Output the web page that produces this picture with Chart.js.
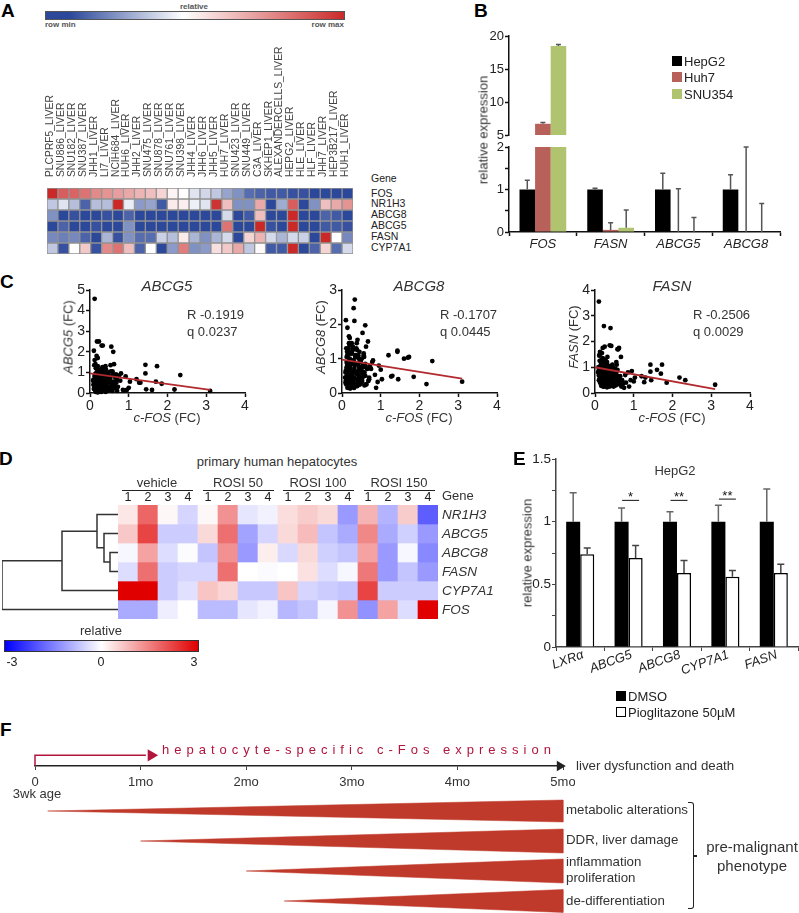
<!DOCTYPE html>
<html>
<head>
<meta charset="utf-8">
<title>Figure</title>
<script src="https://cdn.jsdelivr.net/npm/chart.js@4"></script>
<style>
  html, body { margin: 0; padding: 0; background: #fff; }
  #page { position: relative; width: 799px; height: 913px; overflow: hidden; font-family: "Liberation Sans", Arial, sans-serif; color: #222; }
  #page canvas { position: absolute; }
  .txt { position: absolute; white-space: nowrap; line-height: 1; }
  .bar { position: absolute; box-sizing: border-box; }
</style>
</head>
<body>
<div id="page"></div>
<script>
// panel A
const cellLines = ['PLCPRF5_LIVER','SNU886_LIVER','SNU182_LIVER','SNU387_LIVER','JHH1_LIVER','LI7_LIVER','NCIH684_LIVER','HUH6_LIVER','JHH2_LIVER','SNU475_LIVER','SNU878_LIVER','SNU761_LIVER','SNU398_LIVER','JHH4_LIVER','JHH6_LIVER','JHH5_LIVER','HUH7_LIVER','SNU423_LIVER','SNU449_LIVER','C3A_LIVER','SKHEP1_LIVER','ALEXANDERCELLS_LIVER','HEPG2_LIVER','HLE_LIVER','HLF_LIVER','JHH7_LIVER','HEP3B217_LIVER','HUH1_LIVER'];
const ccleGenes = ['FOS','NR1H3','ABCG8','ABCG5','FASN','CYP7A1'];
const ccleFos = [1,.75,.72,.65,.55,.5,.45,.4,.35,.3,.2,.05,0,-.15,-.22,-.3,-.5,-.6,-.8,-.85,-.9,-.9,-.95,-.95,-1,-1,-1,-1];
const ccleNr1h3 = [-.3,-.15,-.35,-.85,-.35,-.35,1,-.1,-.55,-.5,-.9,.1,.08,-.08,-.15,.95,.3,-.6,-.6,.4,-1,-.45,.75,-1,-.6,.3,.4,.5];
const ccleAbcg8 = [-.6,-1,-.95,-1,-1,-.95,-1,-.85,-1,-1,-1,-1,-1,-1,-1,-1,-.2,-1,-.9,.3,-1,-1,1,-1,-1,-.85,-.9,-1];
const ccleAbcg5 = [-1,-.85,-1,-1,-.95,-1,-1,-.6,-1,-1,-1,-1,-1,-1,-1,-1,.65,-1,-1,1,-.95,-1,1,-1,-1,-.9,-.9,-.95];
const ccleFasn = [-.65,-.7,-.65,-.85,-1,-.4,-.95,-.6,-.8,-.8,-.25,-.35,.1,-.4,-.6,-.4,-.2,-1,.2,.35,-.2,-.4,-.2,-.25,-1,1,0,-.65];
const ccleCyp7a1 = [-.3,-.95,0,.25,-.95,.55,.65,.3,-.85,0,-1,-.55,.6,-.6,-.55,.15,.25,.4,-.3,.03,-.9,-.9,1,-1,-.85,.2,-.8,-.2];

// panel B
const qpcrGenes = ['FOS','FASN','ABCG5','ABCG8'];
const hepg2Values = [1,1,1,1];
const hepg2Tops = [1.22,1.03,1.38,1.35];
const huh7Values = [6.7,.05,0,0];
const huh7Tops = [6.9,.22,1.02,2];
const snu354Values = [18.5,.1,0,0];
const snu354Tops = [18.7,.52,.34,.67];

// panel C, one entry per sample
const cfosFc = [3.10,2.33,2.18,1.85,1.73,1.70,1.60,1.43,1.43,1.45,
  1.30,1.27,1.20,.12,.18,.23,.30,.33,.55,.60,
  .10,.17,.20,.12,.40,.32,.14,.53,.62,.58,
  .67,.38,.42,.25,1.03,1.00,.95,.92,.88,.85,
  .80,.78,.75,.72,.70,.68,.65,.63,.60,.58,
  .56,.54,.52,.50,.48,.46,.45,.44,.42,.40,
  .39,.38,.36,.35,.34,.33,.32,.31,.30,.29,
  .28,.27,.26,.25,.24,.23,.22,.21,.20,.19,
  .18,.17,.16,.15,.14,.13,.12,.11,.10,.09,
  .50,.47,.43,.37,.33,.29,.26,.24,.21,.18,
  .15,.13,.11,.55,.48,.41,.36,.31,.27,.22,
  .19,.16,.62,.70,.44,.34,.28,.20,.14,.10,
  .08,.12,.16,.20,.24,.28,.32,.36,.40,.44,
  .48,.52,.56,.60,.65,.15,.19,.23,.27,.31,
  .35,.39,.43,.47,.51,.09,.13,.17,.21,.25,
  .29,.33,.37,.41,.45,.49,.53,.57,.61,.26];
const abcg5Fc = [.10,.87,.17,.45,1.30,.55,.15,1.37,.95,.18,
  .50,.50,.67,4.57,2.50,2.50,2.30,2.30,2.25,2.00,
  2.05,1.80,1.70,1.60,1.30,1.25,1.40,1.35,1.40,1.05,
  .90,1.20,.95,1.10,.55,.25,.15,.80,.12,.15,
  .95,.60,.85,.30,.65,.50,.75,.40,.90,.10,
  .35,1.05,.70,.20,1.00,.55,.85,.10,.70,.45,
  .95,.25,.60,.80,.15,1.10,.50,.30,.90,.05,
  1.15,.40,.75,1.00,.20,.60,.85,.12,1.30,.45,
  .70,1.25,.30,.95,.10,.55,.80,1.35,.40,.65,
  .15,.80,.30,.65,.45,.08,.95,.35,.70,.22,
  .05,.90,.50,.20,.55,.12,.40,.70,.18,.30,
  1.05,.60,.25,.10,.33,.90,.50,.03,.75,.20,
  .60,.20,.85,.50,1.10,.30,.75,.55,.05,.85,
  .30,.60,.15,.45,.25,1.20,.95,.35,.65,1.05,
  .85,.55,.25,.70,.50,.40,.85,.10,.60,.95,
  .20,.70,.40,1.15,.60,.15,.80,.30,.55,.50];
const abcg8Fc = [.33,.93,.26,.47,1.05,1.03,1.00,1.20,1.23,.40,
  .50,.48,1.10,.90,1.65,1.20,2.47,2.72,.75,1.97,
  2.12,1.30,1.60,1.05,1.55,2.10,1.90,1.75,1.35,.60,
  1.50,1.45,1.10,1.45,.40,.68,.80,.32,.15,.53,
  .95,.90,.70,.78,.45,.35,.72,.25,.85,.22,
  1.10,.80,.55,.30,.95,.25,1.20,.50,.85,.30,
  1.25,.55,.85,.20,1.05,.40,.70,.15,.95,.35,
  1.35,.25,.60,.90,.18,1.15,.45,.75,1.00,.30,
  1.45,.20,.65,1.10,.15,.85,.50,1.30,.35,.60,
  .65,.28,1.00,.42,.80,.22,1.15,.55,.13,.95,
  .40,.72,.25,.60,.90,.33,1.05,.15,.50,.70,
  .85,.18,.75,.40,.24,.62,1.25,.38,1.10,.65,
  .45,.75,.30,.85,.20,1.30,.60,1.05,.25,.75,
  .95,.35,1.15,.50,.70,.55,1.40,.30,.85,.45,
  1.10,.20,.65,.40,1.00,.30,1.20,.50,.80,.35,
  .95,.25,1.30,.55,.30,.75,.45,1.05,.25,.60];
const fasnFc = [.32,.50,.60,.40,1.10,.75,.90,1.10,.83,.50,
  .60,.42,.65,1.50,1.55,2.60,1.10,.80,1.20,1.70,
  3.55,1.30,1.75,1.25,2.52,.90,1.00,.60,1.75,1.70,
  1.40,1.85,1.83,1.80,.60,.45,.85,.50,.25,.80,
  .40,.70,.20,.35,.50,.25,.65,.40,.55,.90,
  1.10,.30,.75,.55,.25,1.00,.40,.60,.30,.80,
  1.05,.25,.70,.95,.30,.55,1.40,.22,.85,.60,
  1.25,.35,.75,.50,1.00,.25,.85,.65,1.35,.30,
  .75,1.10,.28,.90,.60,1.60,.70,1.45,.50,.85,
  .30,.95,.55,.70,.35,1.15,.45,.80,.25,1.00,
  .65,.40,.90,.80,.28,.60,.42,1.20,.75,.55,
  .33,.95,.50,.38,.72,.27,1.05,.62,.85,.68,
  .80,.55,.95,.35,.70,1.05,.45,.85,.60,.30,
  .70,.95,.40,.65,.50,1.10,.60,1.30,.45,.70,
  .95,.35,.80,.55,.65,1.00,.75,.45,1.20,.60,
  .30,.90,.50,.75,1.10,.40,.85,.55,.35,.65];
const trendX = [0,3.1];
const abcg5Trend = [.95,.15];
const abcg8Trend = [.97,.42];
const fasnTrend = [1,.15];

// panel D
const phhColumns = ['1','2','3','4','1','2','3','4','1','2','3','4','1','2','3','4'];
const phhGroups = ['vehicle','ROSI 50','ROSI 100','ROSI 150'];
const phhGenes = ['NR1H3','ABCG5','ABCG8','FASN','CYP7A1','FOS'];
const phhNr1h3 = [.3,1.8,.1,-.5,.1,1.3,-.3,-.15,.4,.6,.45,-1.2,.9,-.9,.6,-1.9];
const phhAbcg5 = [.65,2.2,-.6,-.6,.45,1.7,-1.1,-.5,.45,.8,-.7,-1,1.4,-1,-.55,-1.2];
const phhAbcg8 = [-.1,1.1,-.4,-.03,-.7,1.3,-1.2,.2,-.45,.45,-.55,-.7,1.1,-1.2,-.1,-1.4];
const phhFasn = [-.4,1.7,-.6,-.5,-.5,1.7,0,-.05,0,.35,-.4,-.1,1.6,-1.2,-.7,-1.2];
const phhCyp7a1 = [3,3,-.6,-.35,.7,.5,-.65,-.65,.7,-.5,-.6,-.7,2.2,-.6,-.6,-.6];
const phhFos = [-1,-1,-.2,0,-.8,-.8,-.3,-.15,-.85,-.7,-.12,1.3,-1.3,1.1,-.4,3];
// [distance, row] corners of each dendrogram link
const dendroPaths = [
  [[0,2.5],[8,2.5],[8,3.5],[0,3.5]],
  [[0,1.5],[14,1.5],[14,3],[8,3]],
  [[0,.5],[21,.5],[21,2.25],[14,2.25]],
  [[21,1.375],[56,1.375],[56,4.5],[0,4.5]],
  [[56,2.94],[116,2.94],[116,5.5],[0,5.5]]
];

// panel E
const hepg2Genes = ['LXRα','ABCG5','ABCG8','CYP7A1','FASN'];
const dmsoValues = [1,1,1,1,1];
const dmsoTops = [1.23,1.11,1.08,1.13,1.26];
const pioValues = [.74,.71,.59,.56,.59];
const pioTops = [.79,.81,.69,.61,.66];
const sigGenes = [1,2,3];
const sigLevels = [1.17,1.17,1.18];
const sigLabels = ['*','**','**'];

// panel F, x in months, y in track units
const monthLabels = ['0','1mo','2mo','3mo','4mo','5mo'];
const taperStart = [.12,1,2,2.36];
const taperEnd = 5;
const taperRow = [66,96,126,156];
const taperHalf = [11,12,12,11.5];
const taperLabels = ['metabolic alterations','DDR, liver damage','inflammation','proliferation','de-differentiation'];
const timelineRow = 21;
const expressionRow = 5;
const expressionEnd = 1.05;

const page = document.getElementById('page');
const axisBlack = '#111';
const redLine = '#b12a2e';
const crimson = '#b2143c';

function text(str, x, y, o = {}) {
  const d = document.createElement('div');
  d.className = 'txt';
  d.innerHTML = str;
  d.style.left = x + 'px';
  d.style.top = y + 'px';
  d.style.fontSize = (o.size || 13) + 'px';
  if (o.bold) d.style.fontWeight = 'bold';
  if (o.italic) d.style.fontStyle = 'italic';
  if (o.color) d.style.color = o.color;
  if (o.spacing) d.style.letterSpacing = o.spacing + 'px';
  const ax = o.align === 'center' ? '-50%' : o.align === 'right' ? '-100%' : '0';
  d.style.transform = 'translate(' + ax + ',-50%)' + (o.rotate ? ' rotate(' + o.rotate + 'deg)' : '');
  page.appendChild(d);
}

function rect(x, y, w, h, css) {
  const d = document.createElement('div');
  d.className = 'bar';
  d.style.left = x + 'px';
  d.style.top = y + 'px';
  d.style.width = w + 'px';
  d.style.height = h + 'px';
  Object.assign(d.style, css);
  page.appendChild(d);
}

// plot is the wanted chart area in page pixels, m the room kept around it for axes
function makeChart(plot, m, config) {
  const c = document.createElement('canvas');
  const w = plot.right - plot.left + m.l + m.r;
  const h = plot.bottom - plot.top + m.t + m.b;
  c.width = w;
  c.height = h;
  c.style.left = (plot.left - m.l) + 'px';
  c.style.top = (plot.top - m.t) + 'px';
  c.style.width = w + 'px';
  c.style.height = h + 'px';
  page.appendChild(c);
  const sc = config.options.scales;
  const xShown = sc.x.display !== false;
  const yShown = sc.y.display !== false;
  if (xShown) sc.x.afterFit = s => {
    s.height = sc.x.position === 'top' ? m.t : m.b;
    s.paddingLeft = 0;
    s.paddingRight = 0;
  };
  if (yShown) sc.y.afterFit = s => {
    s.width = m.l;
    s.paddingTop = 0;
    s.paddingBottom = 0;
  };
  config.options.responsive = false;
  config.options.animation = false;
  config.options.layout = { padding: {
    left: yShown ? 0 : m.l,
    right: m.r,
    top: xShown && sc.x.position === 'top' ? 0 : m.t,
    bottom: xShown && sc.x.position !== 'top' ? 0 : m.b
  } };
  config.options.plugins = Object.assign({ legend: { display: false }, tooltip: { enabled: false } }, config.options.plugins);
  return new Chart(c, config);
}

const errorBars = {
  id: 'errorBars',
  afterDatasetsDraw(chart) {
    const ctx = chart.ctx;
    const y = chart.scales.y;
    chart.data.datasets.forEach((ds, i) => {
      if (!ds.tops) return;
      const meta = chart.getDatasetMeta(i);
      ds.tops.forEach((top, j) => {
        if (top > y.max || top < y.min) return;
        const bar = meta.data[j];
        const yTop = y.getPixelForValue(top);
        const yBase = y.getPixelForValue(ds.data[j]);
        ctx.save();
        ctx.strokeStyle = ds.errColor;
        ctx.lineWidth = 1.5;
        ctx.beginPath();
        ctx.moveTo(bar.x, yBase);
        ctx.lineTo(bar.x, yTop);
        ctx.moveTo(bar.x - ds.capHalf, yTop);
        ctx.lineTo(bar.x + ds.capHalf, yTop);
        ctx.stroke();
        ctx.restore();
      });
    });
  }
};

const sigMarks = {
  id: 'sigMarks',
  afterDatasetsDraw(chart) {
    const ctx = chart.ctx;
    sigGenes.forEach((g, i) => {
      const cx = chart.scales.x.getPixelForValue(g) + 2;
      const py = chart.scales.y.getPixelForValue(sigLevels[i]);
      ctx.save();
      ctx.strokeStyle = '#111';
      ctx.lineWidth = 1;
      ctx.beginPath();
      ctx.moveTo(cx - 8.5, py);
      ctx.lineTo(cx + 8.5, py);
      ctx.stroke();
      ctx.fillStyle = '#111';
      ctx.font = '13px "Liberation Sans"';
      ctx.textAlign = 'center';
      ctx.textBaseline = 'middle';
      ctx.fillText(sigLabels[i], cx, py - 3);
      ctx.restore();
    });
  }
};

function lerpColor(t, neg, pos) {
  const end = t < 0 ? neg : pos;
  const a = Math.min(1, Math.abs(t));
  const ch = end.map(v => Math.round(255 + (v - 255) * a));
  return 'rgb(' + ch.join(',') + ')';
}

// one floating bar per cell: rows on a reversed linear scale
function heatDatasets(rows, colorOf, border) {
  return rows.map((vals, r) => ({
    data: vals.map(() => [r, r + 1]),
    backgroundColor: vals.map(colorOf),
    borderColor: border || 'rgba(0,0,0,0)',
    borderWidth: border ? 1 : 0,
    borderSkipped: false,
    grouped: false,
    barPercentage: 1,
    categoryPercentage: 1
  }));
}

// ---- A
text('A', 1, 10, { size: 19, bold: true, color: '#000' });
text('relative', 194, 7, { size: 8, align: 'center', color: '#555', bold: true });
rect(45, 11, 300, 9, { background: 'linear-gradient(to right,#2c489b 0%,#2c489b 8%,#ffffff 46%,#cb2a2a 100%)', border: '1px solid #555' });
text('row min', 45, 25, { size: 8, color: '#555', bold: true });
text('row max', 344, 25, { size: 8, color: '#555', bold: true, align: 'right' });
makeChart({ left: 46.5, right: 352.5, top: 187.5, bottom: 253.5 }, { l: 12, r: 2, t: 155, b: 2 }, {
  type: 'bar',
  data: {
    labels: cellLines,
    datasets: heatDatasets([ccleFos, ccleNr1h3, ccleAbcg8, ccleAbcg5, ccleFasn, ccleCyp7a1],
      v => lerpColor(v, [44,72,155], [203,40,40]), '#929292')
  },
  options: {
    scales: {
      x: { position: 'top', grid: { display: false, drawTicks: false }, border: { display: false },
        ticks: { autoSkip: false, minRotation: 90, maxRotation: 90, padding: 11, labelOffset: 10, color: '#444', font: { size: 10.3, family: 'Liberation Sans' } } },
      y: { display: false, min: 0, max: 6, reverse: true }
    }
  }
});
text('Gene', 371, 178, { size: 10.5 });
ccleGenes.forEach((g, i) => text(g, 371, 192.5 + i * 10.95, { size: 10.5 }));

// ---- B
text('B', 474, 10, { size: 19, bold: true, color: '#000' });
const bDatasets = () => [
  { label: 'HepG2', data: hepg2Values, backgroundColor: '#000', tops: hepg2Tops, errColor: '#555', capHalf: 2.5 },
  { label: 'Huh7', data: huh7Values, backgroundColor: '#b8605a', tops: huh7Tops, errColor: '#555', capHalf: 2.5 },
  { label: 'SNU354', data: snu354Values, backgroundColor: '#b0c46f', tops: snu354Tops, errColor: '#555', capHalf: 2.5 }
];
const bBar = { barPercentage: 1, categoryPercentage: .69 };
const bAxis = { color: axisBlack, width: 1.5 };
makeChart({ left: 509, right: 780, top: 36, bottom: 135 }, { l: 30, r: 4, t: 8, b: 8 }, {
  type: 'bar',
  data: { labels: qpcrGenes, datasets: bDatasets().map(d => Object.assign(d, bBar)) },
  plugins: [errorBars],
  options: { scales: {
    x: { display: false },
    y: { min: 5, max: 20, border: bAxis, grid: { drawOnChartArea: false, tickLength: 4, tickColor: axisBlack, tickWidth: 1.5 },
      ticks: { stepSize: 2.5, padding: 1, color: '#222', font: { size: 13, family: 'Liberation Sans' }, callback: v => v % 5 === 0 ? v : '' } }
  } }
});
makeChart({ left: 509, right: 780, top: 147, bottom: 232 }, { l: 30, r: 4, t: 8, b: 20 }, {
  type: 'bar',
  data: { labels: qpcrGenes, datasets: bDatasets().map(d => Object.assign(d, bBar)) },
  plugins: [errorBars],
  options: { scales: {
    x: { border: bAxis, grid: { drawOnChartArea: false, offset: true, tickLength: 4, tickColor: axisBlack, tickWidth: 1.5 },
      ticks: { padding: 1, color: '#222', font: { size: 13, style: 'italic', family: 'Liberation Sans' } } },
    y: { min: 0, max: 2, border: bAxis, grid: { drawOnChartArea: false, tickLength: 4, tickColor: axisBlack, tickWidth: 1.5 },
      ticks: { stepSize: .5, padding: 1, color: '#222', font: { size: 13, family: 'Liberation Sans' }, callback: v => Number.isInteger(v) ? v : '' } }
  } }
});
text('relative expression', 483, 130, { align: 'center', rotate: -90, color: '#333' });
[['HepG2', '#000', 61], ['Huh7', '#b8605a', 77], ['SNU354', '#b0c46f', 94]].forEach(l => {
  rect(672, l[2] - 5, 10, 10, { background: l[1] });
  text(l[0], 684, l[2], { color: '#222' });
});

// ---- C
text('C', 0, 281, { size: 19, bold: true, color: '#000' });
function scatterPanel(left, yMax, yVals, trend, title, yTitle, r, q, titleX, rX) {
  makeChart({ left: left, right: left + 155, top: 290, bottom: 393 }, { l: 26, r: 10, t: 8, b: 22 }, {
    type: 'scatter',
    data: { datasets: [
      { data: cfosFc.map((x, i) => ({ x: x, y: yVals[i] })), backgroundColor: '#000', pointRadius: 2.4, borderWidth: 0, order: 2, clip: false },
      { data: trendX.map((x, i) => ({ x: x, y: trend[i] })), showLine: true, borderColor: redLine, borderWidth: 1.8, pointRadius: 0, order: 1 }
    ] },
    options: { scales: {
      x: { min: 0, max: 4, border: bAxis, grid: { drawOnChartArea: false, tickLength: 4, tickColor: axisBlack, tickWidth: 1.5 },
        ticks: { stepSize: 1, padding: 1, color: '#222', font: { size: 14, family: 'Liberation Sans' } } },
      y: { min: 0, max: yMax, border: bAxis, grid: { drawOnChartArea: false, tickLength: 4, tickColor: axisBlack, tickWidth: 1.5 },
        ticks: { stepSize: 1, padding: 1, color: '#222', font: { size: 14, family: 'Liberation Sans' } } }
    } }
  });
  text(title, titleX, 285, { size: 15, italic: true, align: 'center', color: '#333' });
  text(yTitle, left - 22, 337, { align: 'center', rotate: -90, color: '#333' });
  text('R ' + r, rX, 314, { color: '#333' });
  text('q ' + q, rX, 331, { color: '#333' });
  text('<i>c-FOS</i> (FC)', titleX, 417, { align: 'center', color: '#333' });
}
scatterPanel(90, 5, abcg5Fc, abcg5Trend, 'ABCG5', '<i>ABCG5</i> (FC)', '-0.1919', '0.0237', 167, 187);
scatterPanel(342, 3, abcg8Fc, abcg8Trend, 'ABCG8', '<i>ABCG8</i> (FC)', '-0.1707', '0.0445', 419, 440);
scatterPanel(595, 4, fasnFc, fasnTrend, 'FASN', '<i>FASN</i> (FC)', '-0.2506', '0.0029', 672, 693);

// ---- D
text('D', -1, 458, { size: 19, bold: true, color: '#000' });
text('primary human hepatocytes', 277, 461, { align: 'center', color: '#333' });
phhGroups.forEach((g, i) => {
  const lx = [122, 203, 283, 364][i];
  text(g, lx + 35, 482, { align: 'center', color: '#333' });
  rect(lx, 490, 71, 1.2, { background: '#222' });
});
makeChart({ left: 118, right: 438, top: 505, bottom: 619 }, { l: 0, r: 0, t: 15, b: 0 }, {
  type: 'bar',
  data: {
    labels: phhColumns,
    datasets: heatDatasets([phhNr1h3, phhAbcg5, phhAbcg8, phhFasn, phhCyp7a1, phhFos],
      v => lerpColor(v / 3, [0,0,255], [224,0,0]))
  },
  options: { scales: {
    x: { position: 'top', grid: { display: false, drawTicks: false }, border: { display: false },
      ticks: { autoSkip: false, maxRotation: 0, padding: 0, color: '#222', font: { size: 12.5, family: 'Liberation Sans' } } },
    y: { display: false, min: 0, max: 6, reverse: true }
  } }
});
makeChart({ left: 2, right: 118, top: 505, bottom: 619 }, { l: 0, r: 0, t: 0, b: 0 }, {
  type: 'scatter',
  data: { datasets: dendroPaths.map(p => ({
    data: p.map(c => ({ x: c[0], y: c[1] })), showLine: true, borderColor: '#333', borderWidth: 1.5, pointRadius: 0, tension: 0
  })) },
  options: { scales: {
    x: { display: false, min: 0, max: 116, reverse: true },
    y: { display: false, min: 0, max: 6, reverse: true }
  } }
});
text('Gene', 442, 495, { size: 13, color: '#333' });
phhGenes.forEach((g, i) => text(g, 442, 514.5 + i * 19, { size: 13.5, italic: true, color: '#333' }));
text('relative', 101, 630, { align: 'center', color: '#333' });
rect(4, 640, 195, 11.5, { background: 'linear-gradient(to right,#0000ff,#ffffff 50%,#e00000)', border: '1px solid #333' });
text('-3', 12, 662, { align: 'center', size: 12.5 });
text('0', 101, 662, { align: 'center', size: 12.5 });
text('3', 194, 662, { align: 'center', size: 12.5 });

// ---- E
text('E', 513, 458, { size: 19, bold: true, color: '#000' });
const eAxis = { color: '#444', width: 1.5 };
makeChart({ left: 556, right: 798, top: 459, bottom: 647 }, { l: 34, r: 1, t: 8, b: 34 }, {
  type: 'bar',
  data: { labels: hepg2Genes, datasets: [
    { data: dmsoValues, backgroundColor: '#000', barPercentage: 1, categoryPercentage: .58, tops: dmsoTops, errColor: '#666', capHalf: 3.5 },
    { data: pioValues, backgroundColor: '#fff', borderColor: '#000', borderWidth: 1.5, barPercentage: 1, categoryPercentage: .58, tops: pioTops, errColor: '#444', capHalf: 3.5 }
  ] },
  plugins: [errorBars, sigMarks],
  options: { scales: {
    x: { border: eAxis, grid: { drawOnChartArea: false, offset: true, tickLength: 4, tickColor: '#444', tickWidth: 1 },
      ticks: { autoSkip: false, minRotation: 20, maxRotation: 20, padding: -4, labelOffset: 3, color: '#222', font: { size: 13, style: 'italic', family: 'Liberation Sans' } } },
    y: { min: 0, max: 1.5, border: eAxis, grid: { drawOnChartArea: false, tickLength: 4, tickColor: '#444', tickWidth: 1 },
      ticks: { stepSize: .25, padding: 1, color: '#222', font: { size: 13.5, family: 'Liberation Sans' }, callback: v => v * 2 === Math.round(v * 2) ? v : '' } }
  } }
});
text('HepG2', 675, 470, { align: 'center', color: '#333' });
text('relative expression', 527, 553, { align: 'center', rotate: -90, color: '#333' });
rect(616, 691, 9.5, 9.5, { background: '#000' });
text('DMSO', 628, 695.5, { color: '#222' });
rect(616, 707, 9.5, 9.5, { background: '#fff', border: '1.5px solid #000' });
text('Pioglitazone 50µM', 628, 712, { color: '#222' });

// ---- F
text('F', 0, 729, { size: 19, bold: true, color: '#000' });
// timeline on its own chart, tapers below it on the same month scale
makeChart({ left: 35, right: 563, top: 745, bottom: 766 }, { l: 20, r: 12, t: 0, b: 24 }, {
  type: 'scatter',
  data: { datasets: [
    { data: [{ x: 0, y: timelineRow }, { x: 0, y: expressionRow }, { x: expressionEnd, y: expressionRow }],
      showLine: true, borderColor: crimson, borderWidth: 1.5, pointRadius: 0, tension: 0, clip: false },
    { data: [{ x: expressionEnd + .05, y: expressionRow }], pointStyle: 'triangle', rotation: 90, pointRadius: 7, backgroundColor: crimson, borderWidth: 0, clip: false },
    { data: [{ x: taperEnd - .03, y: timelineRow }], pointStyle: 'triangle', rotation: 90, pointRadius: 6, backgroundColor: '#222', borderWidth: 0, clip: false }
  ] },
  options: { scales: {
    x: { min: 0, max: 5, border: { color: '#222', width: 1.5 },
      grid: { drawOnChartArea: false, tickLength: 4, tickColor: '#444', tickWidth: 1 },
      ticks: { stepSize: 1, padding: 5, color: '#333', font: { size: 13, family: 'Liberation Sans' }, callback: (v, i) => monthLabels[i] } },
    y: { display: false, min: 0, max: 21, reverse: true }
  } }
});
makeChart({ left: 35, right: 563, top: 789, bottom: 913 }, { l: 20, r: 12, t: 0, b: 0 }, {
  type: 'scatter',
  data: { datasets: taperStart.map((s, i) => ({
    data: [
      { x: s, y: taperRow[i] },
      { x: taperEnd, y: taperRow[i] - taperHalf[i] },
      { x: taperEnd, y: taperRow[i] + taperHalf[i] },
      { x: s, y: taperRow[i] }
    ],
    showLine: true, fill: 'shape', backgroundColor: '#bf3a2b', borderColor: '#bf3a2b', borderWidth: 0.5, pointRadius: 0, tension: 0, clip: false
  })) },
  options: { scales: {
    x: { display: false, min: 0, max: 5 },
    y: { display: false, min: 44, max: 168, reverse: true }
  } }
});
text('hepatocyte-specific c-Fos expression', 162, 749, { color: crimson, spacing: 5 });
text('liver dysfunction and death', 576, 766, { color: '#333', size: 13.3 });
text('3wk age', 37, 793, { align: 'center', color: '#333' });
[810, 840, 862, 878, 901].forEach((y, i) => text(taperLabels[i], 566, y, { color: '#333', size: 13.3 }));
rect(688, 802, 6, 107, { borderRight: '1.6px solid #222', borderTop: '1.6px solid #222', borderBottom: '1.6px solid #222', borderRadius: '0 3px 3px 0' });
rect(694, 855, 3, 1.6, { background: '#222' });
text('pre-malignant', 752, 846, { size: 15, align: 'center', color: '#333' });
text('phenotype', 752, 865, { size: 15, align: 'center', color: '#333' });
</script>
</body>
</html>
